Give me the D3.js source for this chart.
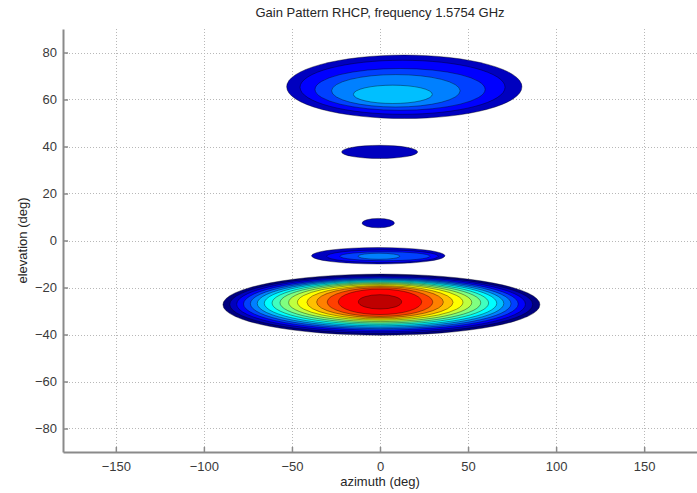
<!DOCTYPE html>
<html>
<head>
<meta charset="utf-8">
<script src="https://cdn.jsdelivr.net/npm/d3@7"></script>
<style>
  body { margin: 0; background: #fff; }
  svg { display: block; font-family: "Liberation Sans", Arial, sans-serif; }
</style>
</head>
<body>
<script>
// axis ticks
let xTicks = [-150, -100, -50, 0, 50, 100, 150],
    yTicks = [-80, -60, -40, -20, 0, 20, 40, 60, 80];

// contour rings: [level, azimuth centre, elevation centre, half width az, half height el]
let mainLobe = [
    [1, 0.8, -27.3, 90, 13], [2, 0.7, -27.2, 86, 12.3], [3, 0.6, -27.1, 82, 11.7],
    [4, 0.5, -27.0, 78, 11.1], [5, 0.4, -26.9, 74, 10.6], [6, 0.3, -26.8, 70, 10.1],
    [7, 0.3, -26.7, 66, 9.6], [8, 0.2, -26.6, 61.5, 9.1], [9, 0.2, -26.5, 57, 8.6],
    [10, 0.1, -26.4, 52, 8.1], [11, 0.1, -26.3, 47, 7.6], [12, 0, -26.3, 41.5, 7.1],
    [13, 0, -26.2, 36, 6.6], [14, 0, -26.2, 30, 6.1], [15, 0, -26.1, 23.7, 5.4],
    [16, 0, -26.1, 12.3, 3.05]
];
let topLobe = [
    [2, 13.8, 65.4, 66.8, 13.5], [3, 12.8, 65.2, 58.2, 11.5], [4, 11.4, 64.3, 48.3, 8.9],
    [5, 9.0, 63.7, 36.5, 6.9], [6, 7.3, 62.2, 22.4, 3.9]
];
let lobe38 = [[2, -0.2, 37.7, 21.6, 2.8]];
let lobe7 = [[2, -1.0, 7.4, 9.2, 2.0]];
let lobeMinus6 = [
    [2, -1.0, -6.5, 37.9, 3.5], [3, 1.4, -6.7, 31.7, 2.7], [4, 2.8, -6.7, 25.6, 1.9],
    [5, -0.6, -6.7, 11.8, 1.3]
];
let lobes = [mainLobe, topLobe, lobe38, lobe7, lobeMinus6];
let nLevels = 17;

let svgWidth = 697,
    svgHeight = 493,
    margin = { top: 29, left: 63 },
    plotW = 634,
    plotH = 423;

let svg = d3.select("body").append("svg")
    .attr("width", svgWidth)
    .attr("height", svgHeight);

let x = d3.scaleLinear().domain([-180, 180]).range([margin.left, margin.left + plotW]);
let y = d3.scaleLinear().domain([-90, 90]).range([margin.top + plotH, margin.top]);

function jet(t) {
    let r = Math.min(Math.max(Math.min(4 * t - 1.5, -4 * t + 4.5), 0), 1),
        g = Math.min(Math.max(Math.min(4 * t - 0.5, -4 * t + 3.5), 0), 1),
        b = Math.min(Math.max(Math.min(4 * t + 0.5, -4 * t + 2.5), 0), 1);
    return d3.rgb(r * 255, g * 255, b * 255).toString();
}

svg.append("defs").append("clipPath").attr("id", "plotclip")
    .append("rect")
    .attr("x", margin.left).attr("y", margin.top)
    .attr("width", plotW).attr("height", plotH);

// grid
let grid = svg.append("g").attr("stroke", "#b8b8b8").attr("stroke-width", 1)
    .attr("stroke-dasharray", "1,2").attr("fill", "none");
xTicks.forEach(t => {
    grid.append("line").attr("x1", Math.round(x(t)) + 0.5).attr("x2", Math.round(x(t)) + 0.5)
        .attr("y1", margin.top).attr("y2", margin.top + plotH);
});
yTicks.forEach(t => {
    grid.append("line").attr("y1", Math.round(y(t)) + 0.5).attr("y2", Math.round(y(t)) + 0.5)
        .attr("x1", margin.left).attr("x2", margin.left + plotW);
});

// filled contours
let contours = svg.append("g").attr("clip-path", "url(#plotclip)");
lobes.forEach(lobe => {
    lobe.forEach(ring => {
        contours.append("ellipse")
            .attr("cx", x(ring[1]))
            .attr("cy", y(ring[2]))
            .attr("rx", x(ring[1] + ring[3]) - x(ring[1]))
            .attr("ry", y(ring[2] - ring[4]) - y(ring[2]))
            .attr("fill", jet((ring[0] - 1) / (nLevels - 1)))
            .attr("stroke", "#000")
            .attr("stroke-opacity", 0.7)
            .attr("stroke-width", 0.55);
    });
});

// axes
let axisColor = "#8a8a8a";
let xAxis = svg.append("g")
    .attr("transform", "translate(0," + (margin.top + plotH) + ")")
    .call(d3.axisBottom(x).tickValues(xTicks).tickSizeInner(-5).tickSizeOuter(0).tickPadding(10));
let yAxis = svg.append("g")
    .attr("transform", "translate(" + margin.left + ",0)")
    .call(d3.axisLeft(y).tickValues(yTicks).tickSizeInner(-5).tickSizeOuter(0).tickPadding(6));

[xAxis, yAxis].forEach(ax => {
    ax.select(".domain").attr("stroke", axisColor).attr("stroke-width", 2);
    ax.selectAll(".tick line").attr("stroke", axisColor).attr("stroke-width", 1.5);
    ax.selectAll(".tick text").attr("fill", "#3a3a3a").style("font-size", "13px")
        .style("font-family", "'Liberation Sans', Arial, sans-serif");
});

// labels
svg.append("text")
    .attr("x", x(0)).attr("y", 17)
    .attr("text-anchor", "middle")
    .attr("fill", "#262626").style("font-size", "13px")
    .text("Gain Pattern RHCP, frequency 1.5754 GHz");

svg.append("text")
    .attr("x", x(0)).attr("y", 486)
    .attr("text-anchor", "middle")
    .attr("fill", "#262626").style("font-size", "13px")
    .text("azimuth (deg)");

svg.append("text")
    .attr("transform", "translate(27," + y(0) + ") rotate(-90)")
    .attr("text-anchor", "middle")
    .attr("fill", "#262626").style("font-size", "13px")
    .text("elevation (deg)");
</script>
</body>
</html>
